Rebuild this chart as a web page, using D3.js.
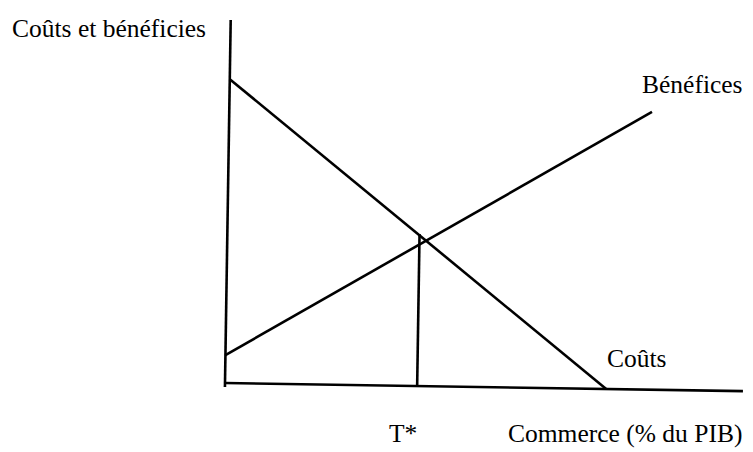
<!DOCTYPE html>
<html>
<head>
<meta charset="utf-8">
<script src="https://cdn.jsdelivr.net/npm/d3@7"></script>
<style>
  body { margin: 0; background: #fff; }
  svg text { font-family: "Liberation Serif", "Times New Roman", serif; font-size: 25.5px; fill: #000; }
  .curve, .axis-line, .guide { stroke: #000; stroke-width: 2.6; fill: none; }
</style>
</head>
<body>
<svg id="chart" width="753" height="452"></svg>
<script>
// trade share (% of GDP) on x, costs / benefits on y, both 0..100
const trade = [0, 100];
const level = [0, 100];

// straight lines given by their two end points [x, y]
const costs = [[0, 83.7], [73.6, 0]];
const benefits = [[0, 7.7], [81.6, 76.5]];

// optimum trade share and the top of its guide line
const tStar = 37.1;
const tStarTop = 41.9;

const labels = {
  yTitle: "Coûts et bénéficies",
  xTitle: "Commerce (% du PIB)",
  benefits: "Bénéfices",
  costs: "Coûts",
  tStar: "T*"
};

const svg = d3.select("#chart");

// the scanned figure is tilted a little clockwise
const origin = { x: 225, y: 383 };
const tilt = 0.9;
const plotW = 518, plotH = 363;

const x = d3.scaleLinear().domain(trade).range([0, plotW]);
const y = d3.scaleLinear().domain(level).range([0, -plotH]);

const plot = svg.append("g")
  .attr("transform", `translate(${origin.x},${origin.y}) rotate(${tilt})`);

// axes drawn as bare lines, no ticks
plot.append("line")
  .attr("class", "axis-line")
  .attr("x1", x(0)).attr("y1", y(-1.1))
  .attr("x2", x(0)).attr("y2", y(100));
plot.append("line")
  .attr("class", "axis-line")
  .attr("x1", x(0)).attr("y1", y(0))
  .attr("x2", x(100)).attr("y2", y(0));

const line = d3.line().x(d => x(d[0])).y(d => y(d[1]));

plot.append("path").attr("class", "curve").attr("d", line(costs));
plot.append("path").attr("class", "curve").attr("d", line(benefits));

plot.append("line")
  .attr("class", "guide")
  .attr("x1", x(tStar)).attr("y1", y(0))
  .attr("x2", x(tStar)).attr("y2", y(tStarTop));

// texts
svg.append("text").attr("x", 12).attr("y", 37).text(labels.yTitle);
svg.append("text").attr("x", 642).attr("y", 93).text(labels.benefits);
svg.append("text").attr("x", 607).attr("y", 367).text(labels.costs);
svg.append("text").attr("x", 389).attr("y", 442).text(labels.tStar);
svg.append("text").attr("x", 508).attr("y", 442).text(labels.xTitle);
</script>
</body>
</html>
